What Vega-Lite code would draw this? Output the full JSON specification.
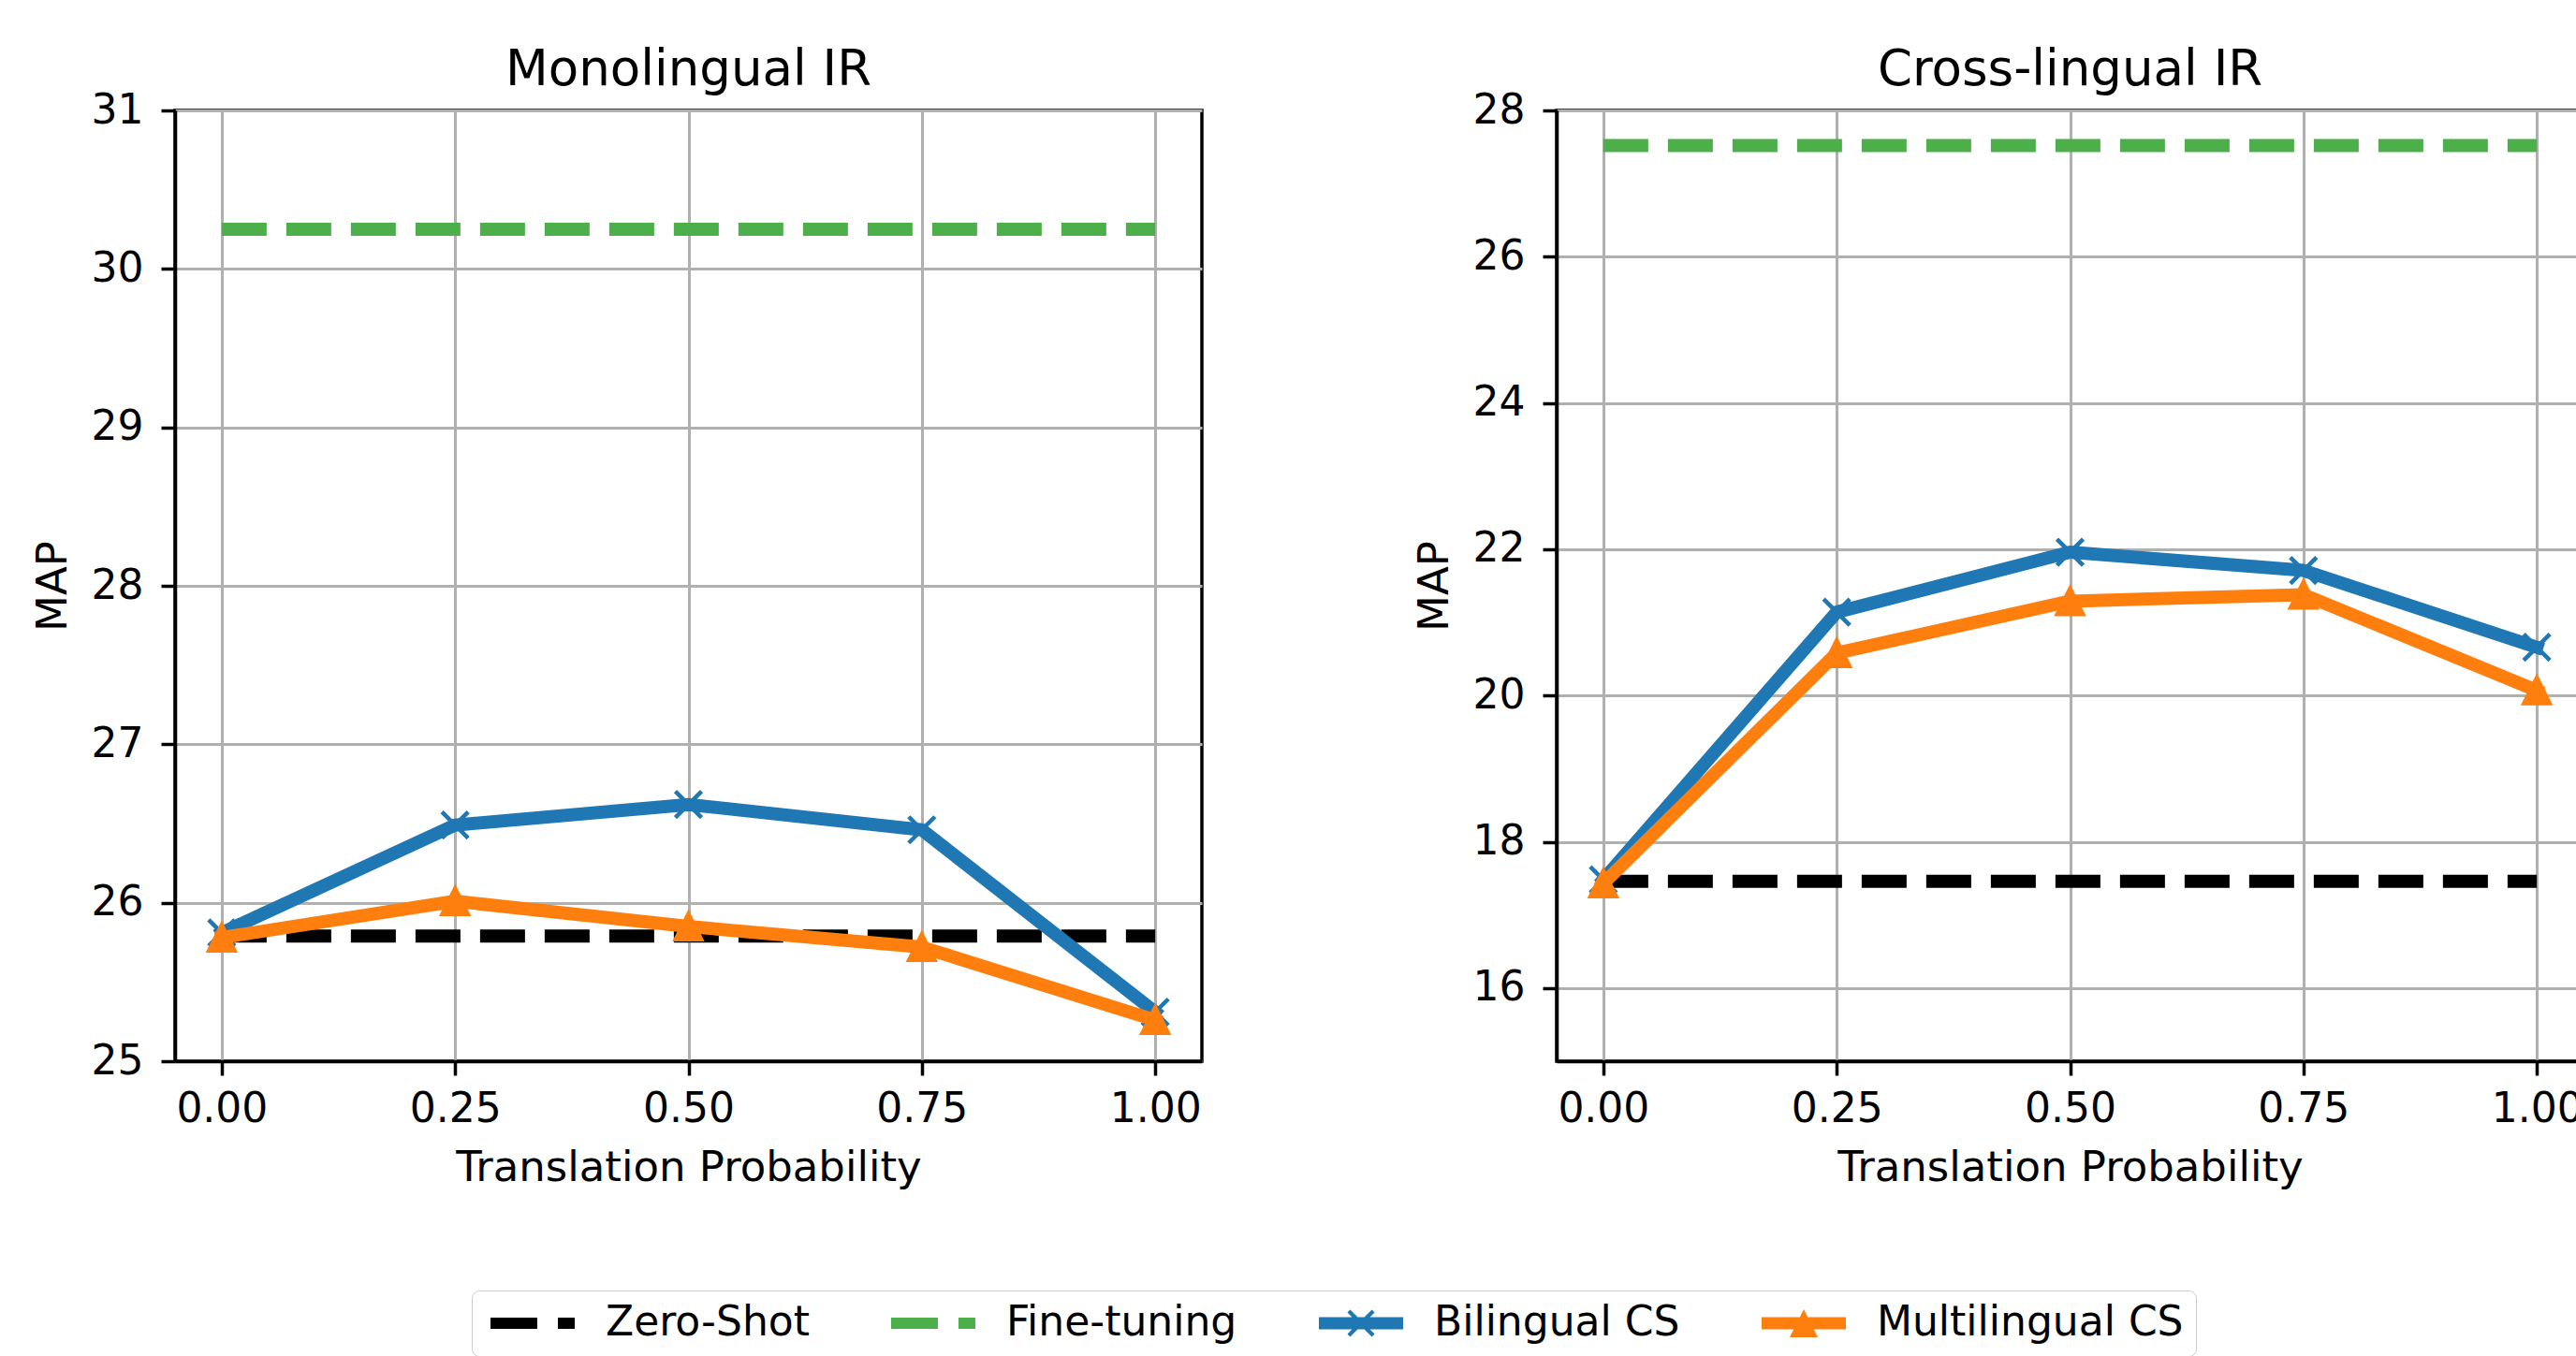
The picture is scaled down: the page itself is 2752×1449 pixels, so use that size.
{
  "$schema": "https://vega.github.io/schema/vega-lite/v6.json",
  "autosize": {"type": "pad"},
  "padding": {"left": 32, "top": 47, "right": 0, "bottom": 0},
  "background": "white",
  "config": {
    "font": "DejaVu Sans",
    "view": {"stroke": "black", "strokeWidth": 3.5},
    "axis": {
      "labelFont": "DejaVu Sans", "labelFontSize": 44, "labelColor": "black",
      "titleFont": "DejaVu Sans", "titleFontSize": 45, "titleFontWeight": "normal", "titleColor": "black",
      "domainColor": "black", "domainWidth": 3.5,
      "tickColor": "black", "tickWidth": 3.5, "tickSize": 15,
      "gridColor": "#b0b0b0", "gridWidth": 3, "grid": true,
      "labelFlush": false, "labelOverlap": false
    },
    "axisX": {"labelPadding": 14, "titlePadding": 18},
    "axisY": {"labelPadding": 19, "titlePadding": 18},
    "title": {"font": "DejaVu Sans", "fontSize": 53, "fontWeight": "normal", "color": "black", "baseline": "alphabetic", "frame": "group", "offset": -6}
  },
  "data": {"values": [
    {"panel": "Monolingual IR", "method": "Zero-Shot", "p": 0, "map": 25.79},
    {"panel": "Monolingual IR", "method": "Zero-Shot", "p": 0.25, "map": 25.79},
    {"panel": "Monolingual IR", "method": "Zero-Shot", "p": 0.5, "map": 25.79},
    {"panel": "Monolingual IR", "method": "Zero-Shot", "p": 0.75, "map": 25.79},
    {"panel": "Monolingual IR", "method": "Zero-Shot", "p": 1, "map": 25.79},
    {"panel": "Monolingual IR", "method": "Fine-tuning", "p": 0, "map": 30.25},
    {"panel": "Monolingual IR", "method": "Fine-tuning", "p": 0.25, "map": 30.25},
    {"panel": "Monolingual IR", "method": "Fine-tuning", "p": 0.5, "map": 30.25},
    {"panel": "Monolingual IR", "method": "Fine-tuning", "p": 0.75, "map": 30.25},
    {"panel": "Monolingual IR", "method": "Fine-tuning", "p": 1, "map": 30.25},
    {"panel": "Monolingual IR", "method": "Bilingual CS", "p": 0, "map": 25.81},
    {"panel": "Monolingual IR", "method": "Bilingual CS", "p": 0.25, "map": 26.49},
    {"panel": "Monolingual IR", "method": "Bilingual CS", "p": 0.5, "map": 26.62},
    {"panel": "Monolingual IR", "method": "Bilingual CS", "p": 0.75, "map": 26.46},
    {"panel": "Monolingual IR", "method": "Bilingual CS", "p": 1, "map": 25.31},
    {"panel": "Monolingual IR", "method": "Multilingual CS", "p": 0, "map": 25.78},
    {"panel": "Monolingual IR", "method": "Multilingual CS", "p": 0.25, "map": 26.01},
    {"panel": "Monolingual IR", "method": "Multilingual CS", "p": 0.5, "map": 25.85},
    {"panel": "Monolingual IR", "method": "Multilingual CS", "p": 0.75, "map": 25.72},
    {"panel": "Monolingual IR", "method": "Multilingual CS", "p": 1, "map": 25.26},
    {"panel": "Cross-lingual IR", "method": "Zero-Shot", "p": 0, "map": 17.46},
    {"panel": "Cross-lingual IR", "method": "Zero-Shot", "p": 0.25, "map": 17.46},
    {"panel": "Cross-lingual IR", "method": "Zero-Shot", "p": 0.5, "map": 17.46},
    {"panel": "Cross-lingual IR", "method": "Zero-Shot", "p": 0.75, "map": 17.46},
    {"panel": "Cross-lingual IR", "method": "Zero-Shot", "p": 1, "map": 17.46},
    {"panel": "Cross-lingual IR", "method": "Fine-tuning", "p": 0, "map": 27.52},
    {"panel": "Cross-lingual IR", "method": "Fine-tuning", "p": 0.25, "map": 27.52},
    {"panel": "Cross-lingual IR", "method": "Fine-tuning", "p": 0.5, "map": 27.52},
    {"panel": "Cross-lingual IR", "method": "Fine-tuning", "p": 0.75, "map": 27.52},
    {"panel": "Cross-lingual IR", "method": "Fine-tuning", "p": 1, "map": 27.52},
    {"panel": "Cross-lingual IR", "method": "Bilingual CS", "p": 0, "map": 17.48},
    {"panel": "Cross-lingual IR", "method": "Bilingual CS", "p": 0.25, "map": 21.14},
    {"panel": "Cross-lingual IR", "method": "Bilingual CS", "p": 0.5, "map": 21.96},
    {"panel": "Cross-lingual IR", "method": "Bilingual CS", "p": 0.75, "map": 21.71},
    {"panel": "Cross-lingual IR", "method": "Bilingual CS", "p": 1, "map": 20.66},
    {"panel": "Cross-lingual IR", "method": "Multilingual CS", "p": 0, "map": 17.43},
    {"panel": "Cross-lingual IR", "method": "Multilingual CS", "p": 0.25, "map": 20.58},
    {"panel": "Cross-lingual IR", "method": "Multilingual CS", "p": 0.5, "map": 21.29},
    {"panel": "Cross-lingual IR", "method": "Multilingual CS", "p": 0.75, "map": 21.38},
    {"panel": "Cross-lingual IR", "method": "Multilingual CS", "p": 1, "map": 20.07}
  ]},
  "spacing": 222,
  "resolve": {"scale": {"color": "shared", "shape": "shared"}},
  "hconcat": [
    {
      "title": "Monolingual IR",
      "width": 1097, "height": 1016,
      "transform": [{"filter": "datum.panel === 'Monolingual IR'"}],
      "encoding": {
        "x": {"field": "p", "type": "quantitative", "scale": {"domain": [-0.05, 1.05], "nice": false, "zero": false},
              "axis": {"values": [0, 0.25, 0.5, 0.75, 1], "format": ".2f", "title": "Translation Probability"}},
        "y": {"field": "map", "type": "quantitative", "scale": {"domain": [25, 31], "nice": false, "zero": false},
              "axis": {"values": [25, 26, 27, 28, 29, 30, 31], "format": "d", "title": "MAP"}}
      },
      "layer": [
        {"transform": [{"filter": "datum.method === 'Zero-Shot'"}],
         "mark": {"type": "line", "color": "black", "strokeWidth": 14, "strokeDash": [48, 21]}},
        {"transform": [{"filter": "datum.method === 'Fine-tuning'"}],
         "mark": {"type": "line", "color": "#4daf4a", "strokeWidth": 14, "strokeDash": [48, 21]}},
        {"transform": [{"filter": "datum.method === 'Bilingual CS'"}],
         "mark": {"type": "line", "color": "#1f77b4", "strokeWidth": 14, "strokeJoin": "round", "strokeCap": "square"}},
        {"transform": [{"filter": "datum.method === 'Bilingual CS'"}],
         "mark": {"type": "point", "shape": "M-1,-1L1,1M-1,1L1,-1", "size": 784, "filled": false, "color": "#1f77b4", "strokeWidth": 4.5, "opacity": 1}},
        {"transform": [{"filter": "datum.method === 'Multilingual CS'"}],
         "mark": {"type": "line", "color": "#ff7f0e", "strokeWidth": 14, "strokeJoin": "round", "strokeCap": "square"}},
        {"transform": [{"filter": "datum.method === 'Multilingual CS'"}],
         "mark": {"type": "point", "shape": "M0,-1L1,1L-1,1Z", "size": 784, "filled": true, "color": "#ff7f0e", "stroke": "#ff7f0e", "strokeWidth": 4, "opacity": 1}},
        {"transform": [{"filter": "datum.p === 0"}],
         "mark": {"type": "point", "filled": true, "opacity": 0},
         "encoding": {
           "color": {"field": "method", "type": "nominal",
             "scale": {"domain": ["Zero-Shot", "Fine-tuning", "Bilingual CS", "Multilingual CS"], "range": ["#000000", "#4daf4a", "#1f77b4", "#ff7f0e"]},
             "legend": {"title": null, "orient": "none", "legendX": 317, "legendY": 1261, "direction": "horizontal", "columns": 4,
               "symbolSize": 900, "symbolOpacity": 1, "symbolStrokeWidth": 0, "labelOffset": 86, "columnPadding": 80, "padding": 13,
               "labelFont": "DejaVu Sans", "labelFontSize": 44, "labelColor": "black", "labelLimit": 0,
               "strokeColor": "#cccccc", "fillColor": "white", "cornerRadius": 8}},
           "shape": {"field": "method", "type": "nominal",
             "scale": {"domain": ["Zero-Shot", "Fine-tuning", "Bilingual CS", "Multilingual CS"],
               "range": [
                 "M-1,-0.4L2.33,-0.4L2.33,0.4L-1,0.4ZM3.8,-0.4L5,-0.4L5,0.4L3.8,0.4Z",
                 "M-1,-0.4L2.33,-0.4L2.33,0.4L-1,0.4ZM3.8,-0.4L5,-0.4L5,0.4L3.8,0.4Z",
                 "M-1,-0.43L5,-0.43L5,0.43L-1,0.43ZM1.03,-0.77L1.23,-0.97L2.97,0.77L2.77,0.97ZM1.23,0.97L1.03,0.77L2.77,-0.97L2.97,-0.77Z",
                 "M-1,-0.43L5,-0.43L5,0.43L-1,0.43ZM2,-1L3,1L1,1Z"
               ]},
             "legend": {"title": null, "orient": "none", "legendX": 317, "legendY": 1261, "direction": "horizontal", "columns": 4,
               "symbolSize": 900, "symbolOpacity": 1, "symbolStrokeWidth": 0, "labelOffset": 86, "columnPadding": 80, "padding": 13,
               "labelFont": "DejaVu Sans", "labelFontSize": 44, "labelColor": "black", "labelLimit": 0,
               "strokeColor": "#cccccc", "fillColor": "white", "cornerRadius": 8}}
         }}
      ]
    },
    {
      "title": "Cross-lingual IR",
      "width": 1097, "height": 1016,
      "transform": [{"filter": "datum.panel === 'Cross-lingual IR'"}],
      "encoding": {
        "x": {"field": "p", "type": "quantitative", "scale": {"domain": [-0.05, 1.05], "nice": false, "zero": false},
              "axis": {"values": [0, 0.25, 0.5, 0.75, 1], "format": ".2f", "title": "Translation Probability"}},
        "y": {"field": "map", "type": "quantitative", "scale": {"domain": [15, 28], "nice": false, "zero": false},
              "axis": {"values": [16, 18, 20, 22, 24, 26, 28], "format": "d", "title": "MAP"}}
      },
      "layer": [
        {"transform": [{"filter": "datum.method === 'Zero-Shot'"}],
         "mark": {"type": "line", "color": "black", "strokeWidth": 14, "strokeDash": [48, 21]}},
        {"transform": [{"filter": "datum.method === 'Fine-tuning'"}],
         "mark": {"type": "line", "color": "#4daf4a", "strokeWidth": 14, "strokeDash": [48, 21]}},
        {"transform": [{"filter": "datum.method === 'Bilingual CS'"}],
         "mark": {"type": "line", "color": "#1f77b4", "strokeWidth": 14, "strokeJoin": "round", "strokeCap": "square"}},
        {"transform": [{"filter": "datum.method === 'Bilingual CS'"}],
         "mark": {"type": "point", "shape": "M-1,-1L1,1M-1,1L1,-1", "size": 784, "filled": false, "color": "#1f77b4", "strokeWidth": 4.5, "opacity": 1}},
        {"transform": [{"filter": "datum.method === 'Multilingual CS'"}],
         "mark": {"type": "line", "color": "#ff7f0e", "strokeWidth": 14, "strokeJoin": "round", "strokeCap": "square"}},
        {"transform": [{"filter": "datum.method === 'Multilingual CS'"}],
         "mark": {"type": "point", "shape": "M0,-1L1,1L-1,1Z", "size": 784, "filled": true, "color": "#ff7f0e", "stroke": "#ff7f0e", "strokeWidth": 4, "opacity": 1}}
      ]
    }
  ]
}
